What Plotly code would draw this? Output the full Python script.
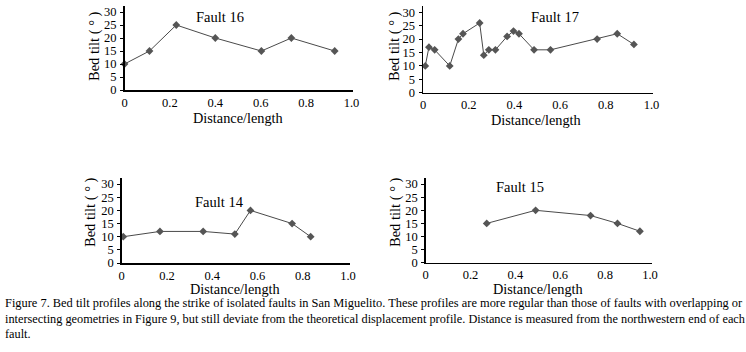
import plotly.graph_objects as go

W, H = 746, 352

# Data
f16_x = [0.0, 0.11, 0.228, 0.40, 0.603, 0.735, 0.926]
f16_y = [10, 15, 25, 20, 15, 20, 15]

f17_x = [0.01, 0.026, 0.051, 0.117, 0.155, 0.175, 0.248, 0.266, 0.288, 0.317, 0.368, 0.396, 0.42, 0.486, 0.558, 0.762, 0.85, 0.923]
f17_y = [10, 17, 16, 10, 20, 22, 26, 14, 16, 16, 21, 23, 22, 16, 16, 20, 22, 18]

f14_x = [0.007, 0.169, 0.36, 0.50, 0.569, 0.753, 0.835]
f14_y = [10, 12, 12, 11, 20, 15, 10]

f15_x = [0.272, 0.49, 0.735, 0.855, 0.955]
f15_y = [15, 20, 18, 15, 12]

titles = ["Fault 16", "Fault 17", "Fault 14", "Fault 15"]
x_ticks = [0, 0.2, 0.4, 0.6, 0.8, 1.0]
x_ticktext = ["0", "0.2", "0.4", "0.6", "0.8", "1.0"]
y_ticks = [0, 5, 10, 15, 20, 25, 30]

caption = ["Figure 7. Bed tilt profiles along the strike of isolated faults in San Miguelito. These profiles are more regular than those of faults with overlapping or",
           "intersecting geometries in Figure 9, but still deviate from the theoretical displacement profile. Distance is measured from the northwestern end of each",
           "fault."]
caption_sizes = [12.4, 12.3, 12.3]

FONT = "Liberation Serif, Times New Roman, serif"

# panel geometry in pixels: x0 (value 0), x1 (value 1), y0 (value 0), ypu (px per unit)
panels = [
    dict(x0=124.5, x1=351.5, y0=90.0, ypu=2.6, title=(220, 17), ytl=(95, 46), xtl=(238, 118)),
    dict(x0=423.0, x1=651.5, y0=92.7, ypu=2.68, title=(555, 17), ytl=(395, 46), xtl=(536, 120)),
    dict(x0=121.7, x1=348.0, y0=263.0, ypu=2.63, title=(220, 202), ytl=(90, 212), xtl=(235, 289)),
    dict(x0=425.7, x1=650.0, y0=262.7, ypu=2.62, title=(520, 187), ytl=(395, 212), xtl=(538, 289)),
]
data = [(f16_x, f16_y), (f17_x, f17_y), (f14_x, f14_y), (f15_x, f15_y)]

fig = go.Figure()
layout = dict(width=W, height=H, margin=dict(l=0, r=0, t=0, b=0, pad=0, autoexpand=False),
              paper_bgcolor="white", plot_bgcolor="white", showlegend=False, hovermode=False,
              font=dict(family=FONT, color="black"))
annotations = []
XMAX = 1.008
YMAX = 32.5
for i, (p, (xs, ys)) in enumerate(zip(panels, data)):
    n = "" if i == 0 else str(i + 1)
    fig.add_trace(go.Scatter(x=xs, y=ys, mode="lines+markers",
                             line=dict(color="#4a4a4a", width=1),
                             marker=dict(symbol="diamond", size=6, color="#555555"),
                             xaxis="x" + n, yaxis="y" + n, cliponaxis=False))
    px_per_x = p["x1"] - p["x0"]
    xl = p["x0"] / W
    xr = (p["x0"] + px_per_x * XMAX) / W
    yb = 1 - p["y0"] / H
    yt = 1 - (p["y0"] - p["ypu"] * YMAX) / H
    layout["xaxis" + n] = dict(domain=[xl, xr], range=[0, XMAX], anchor="y" + n,
                               tickvals=x_ticks, ticktext=x_ticktext, showgrid=False,
                               zeroline=False, showline=True, linecolor="black", linewidth=1.5,
                               ticks="", tickfont=dict(size=12.5, family=FONT, color="black"),
                               automargin=False)
    layout["yaxis" + n] = dict(domain=[yb, yt], range=[0, YMAX], anchor="x" + n,
                               tickvals=y_ticks, showgrid=False, zeroline=False,
                               showline=True, linecolor="black", linewidth=1.5,
                               ticks="outside", ticklen=3, tickwidth=1, tickcolor="black",
                               ticklabelstandoff=1, automargin=False,
                               tickfont=dict(size=12.5, family=FONT, color="black"))
    tx, ty = p["title"]
    annotations.append(dict(text=titles[i], x=tx / W, y=1 - ty / H, xref="paper", yref="paper",
                            xanchor="center", yanchor="middle",
                            showarrow=False, font=dict(size=14.5, family=FONT)))
    yx, yy = p["ytl"]
    annotations.append(dict(text="Bed tilt ( ° )", x=yx / W, y=1 - yy / H, xref="paper", yref="paper",
                            xanchor="center", yanchor="middle",
                            showarrow=False, textangle=-90, font=dict(size=14.5, family=FONT)))
    xx, xy = p["xtl"]
    annotations.append(dict(text="Distance/length", x=xx / W, y=1 - xy / H, xref="paper", yref="paper",
                            xanchor="center", yanchor="middle",
                            showarrow=False, font=dict(size=14.3, family=FONT)))

for j, line in enumerate(caption):
    annotations.append(dict(text=line, x=3 / W, y=1 - (303 + 15.5 * j) / H, xref="paper", yref="paper",
                            xanchor="left", yanchor="middle", showarrow=False,
                            font=dict(size=caption_sizes[j], family=FONT)))

layout["annotations"] = annotations
fig.update_layout(**layout)
fig.write_html("out.html", config={"displayModeBar": False, "staticPlot": True},
               post_script="document.body.style.margin='0';document.body.style.padding='0';document.body.style.overflow='hidden';")
